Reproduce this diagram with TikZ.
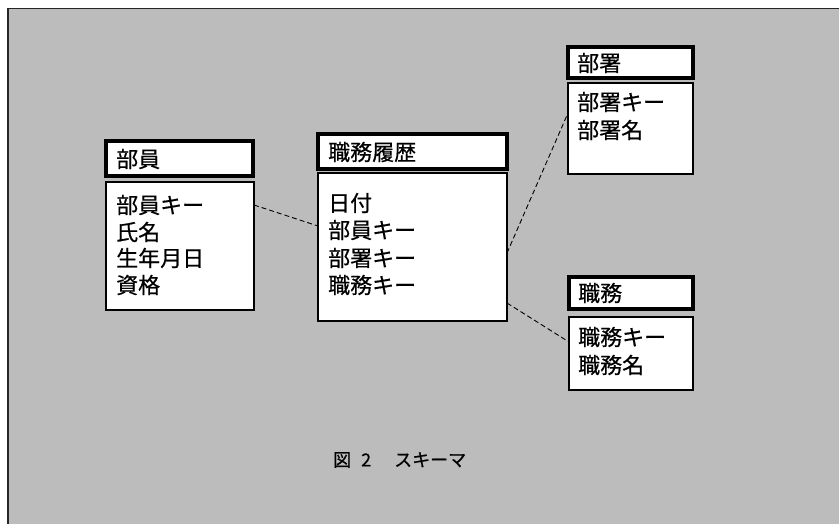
\documentclass[tikz,border=0pt]{standalone}
\usepackage{fontspec}
\setmainfont{Noto Sans CJK JP}[FakeBold=0.5]
\definecolor{scangray}{RGB}{188,188,188}
\tikzset{
  hdr/.style={draw=black, line width=3.2pt, fill=white, anchor=north west, inner sep=0pt, outer sep=0pt},
  bodybox/.style={draw=black, line width=1.3pt, fill=white, anchor=north west, inner sep=0pt, outer sep=0pt},
  lbl/.style={anchor=west, inner sep=0pt, font=\fontsize{22}{26}\selectfont},
  captext/.style={anchor=west, inner sep=0pt, font=\fontsize{18}{22}\selectfont},
  link/.style={line width=0.9pt, dash pattern=on 5pt off 3pt}
}
\begin{document}
\begin{tikzpicture}[x=1pt, y=-1pt]
\useasboundingbox (0,0) rectangle (839,524);
% background scan area
\fill[scangray] (8,8.5) rectangle (839,524);
\draw[line width=1.6pt, black!85] (8,524) -- (8,8.5) -- (839,8.5);

% entity: 部員
\node[hdr, minimum width=147pt, minimum height=35pt] (h1) at (106,141) {};
\node[bodybox, minimum width=148pt, minimum height=128pt] (b1) at (106,182) {};
\node[lbl] (t1) at (116,159) {部員};
\node[lbl] (t1a) at (116,205) {部員キー};
\node[lbl] (t1b) at (116,232) {氏名};
\node[lbl] (t1c) at (116,258) {生年月日};
\node[lbl] (t1d) at (116,285) {資格};

% entity: 職務履歴
\node[hdr, minimum width=189pt, minimum height=35pt] (h2) at (318,134) {};
\node[bodybox, minimum width=189pt, minimum height=148pt] (b2) at (318,173) {};
\node[lbl] (t2) at (328,152) {職務履歴};
\node[lbl] (t2a) at (328,203) {日付};
\node[lbl] (t2b) at (328,230) {部員キー};
\node[lbl] (t2c) at (328,258) {部署キー};
\node[lbl] (t2d) at (328,285) {職務キー};

% entity: 部署
\node[hdr, minimum width=125pt, minimum height=31pt] (h3) at (568,47) {};
\node[bodybox, minimum width=125pt, minimum height=91pt] (b3) at (568,83) {};
\node[lbl] (t3) at (577,63) {部署};
\node[lbl] (t3a) at (577,102) {部署キー};
\node[lbl] (t3b) at (577,130) {部署名};

% entity: 職務
\node[hdr, minimum width=124pt, minimum height=32pt] (h4) at (569,277) {};
\node[bodybox, minimum width=124pt, minimum height=73pt] (b4) at (569,317) {};
\node[lbl] (t4) at (578,293) {職務};
\node[lbl] (t4a) at (578,337) {職務キー};
\node[lbl] (t4b) at (578,365) {職務名};

% relationships
\draw[link] ([yshift=-23pt]b1.north east) -- ([yshift=-53pt]b2.north west);
\draw[link] ([yshift=-80pt]b2.north east) -- ([yshift=-30pt]b3.north west);
\draw[link] ([yshift=-130pt]b2.north east) -- ([yshift=-25pt]b4.north west);

% caption
\node[captext] (caption) at (333,460) {図\hspace{10pt}2\hspace{23pt}スキーマ};
\end{tikzpicture}
\end{document}
